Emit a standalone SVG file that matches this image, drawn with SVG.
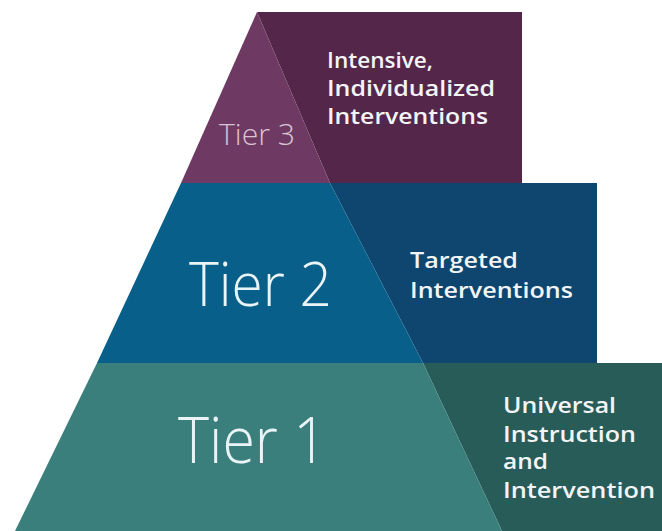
<svg xmlns="http://www.w3.org/2000/svg" width="662" height="531" viewBox="0 0 662 531">
<style>
.tier{font-family:"Open Sans","Lato","Liberation Sans",sans-serif;font-weight:300;fill:#eaf4f6}
.desc{font-family:"Open Sans","Lato","Liberation Sans",sans-serif;font-weight:600;fill:#f2f4f6;font-size:21px}
</style>
<rect width="662" height="531" fill="#ffffff"/>
<g id="tier3">
<polygon points="257,12 522,12 522,183 330,183" fill="#54264a"/>
<polygon points="257,12 330,183 181,183" fill="#6e3a64"/>
<text class="tier" x="219" y="145" font-size="30" textLength="76" lengthAdjust="spacingAndGlyphs" style="fill:#d8c3d3">Tier 3</text>
<text class="desc" x="327" y="68" textLength="106" lengthAdjust="spacingAndGlyphs">Intensive,</text>
<text class="desc" x="327" y="96" textLength="168" lengthAdjust="spacingAndGlyphs">Individualized</text>
<text class="desc" x="327" y="124" textLength="161" lengthAdjust="spacingAndGlyphs">Interventions</text>
</g>
<g id="tier2">
<polygon points="330,183 597,183 597,363 423,363" fill="#0e4670"/>
<polygon points="181,183 330,183 423,363 97,363" fill="#08608a"/>
<text class="tier" x="189" y="306" font-size="60" textLength="143" lengthAdjust="spacingAndGlyphs">Tier 2</text>
<text class="desc" x="410" y="268" textLength="108" lengthAdjust="spacingAndGlyphs">Targeted</text>
<text class="desc" x="410" y="298" textLength="163" lengthAdjust="spacingAndGlyphs">Interventions</text>
</g>
<g id="tier1">
<polygon points="423,363 662,363 662,531 502,531" fill="#285c58"/>
<polygon points="97,363 423,363 502,531 15,531" fill="#3a7f7c"/>
<text class="tier" x="178" y="463" font-size="64" textLength="149" lengthAdjust="spacingAndGlyphs">Tier 1</text>
<text class="desc" x="503" y="413" textLength="113" lengthAdjust="spacingAndGlyphs">Universal</text>
<text class="desc" x="503" y="442" textLength="133" lengthAdjust="spacingAndGlyphs">Instruction</text>
<text class="desc" x="503" y="469" textLength="45" lengthAdjust="spacingAndGlyphs">and</text>
<text class="desc" x="503" y="498" textLength="152" lengthAdjust="spacingAndGlyphs">Intervention</text>
</g>
<g id="connectors"></g>
</svg>
